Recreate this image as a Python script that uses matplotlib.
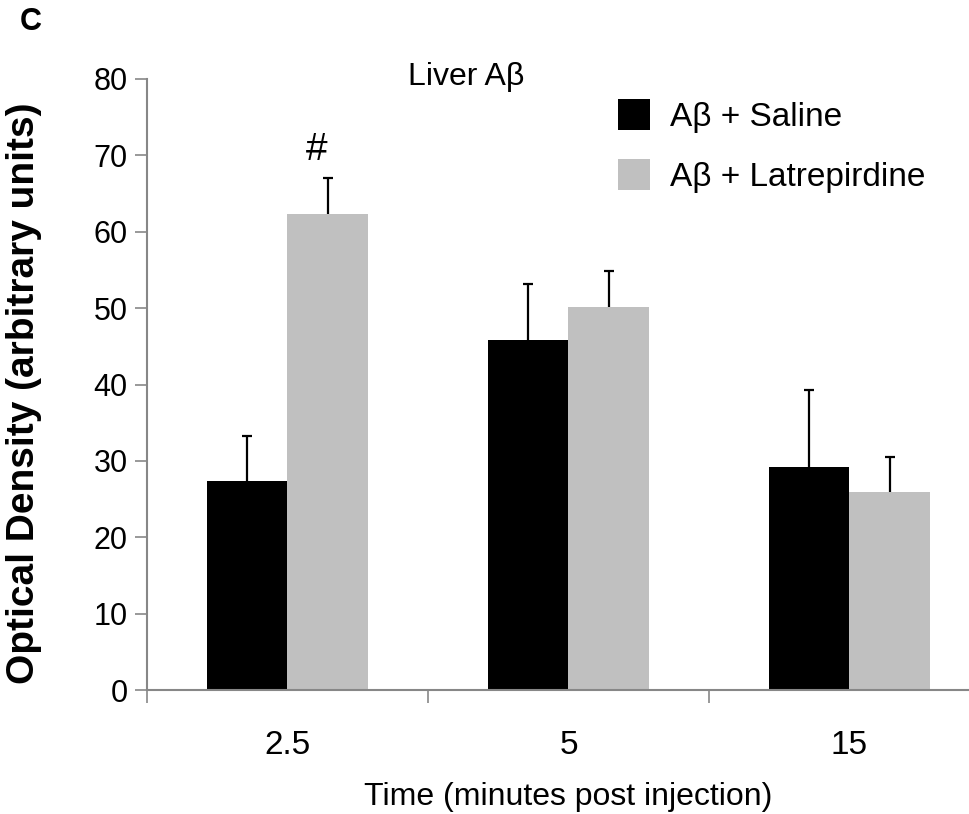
import matplotlib
matplotlib.use("Agg")
import matplotlib.pyplot as plt
import numpy as np

# Data
times = ["2.5", "5", "15"]
saline_mean = [27.4, 45.8, 29.2]
saline_err = [5.8, 7.3, 10.1]
latrep_mean = [62.3, 50.1, 25.9]
latrep_err = [4.7, 4.7, 4.6]
series_labels = ["A\u03b2 + Saline", "A\u03b2 + Latrepirdine"]
y_ticks = [0, 10, 20, 30, 40, 50, 60, 70, 80]

plt.rcParams["font.family"] = ["Liberation Sans", "DejaVu Sans"]

W, H = 970, 814
fig = plt.figure(figsize=(W / 100, H / 100), dpi=100)
ax = fig.add_axes([147 / W, 1 - 690 / H, 843 / W, (690 - 79) / H])

x = np.arange(len(times))
w = 0.287
spine_col = "#878787"

ax.bar(x - w / 2, saline_mean, w, color="black", label=series_labels[0], zorder=2)
ax.bar(x + w / 2, latrep_mean, w, color="#C0C0C0", label=series_labels[1], zorder=2)


def upper_errorbars(xpos, means, errs):
    _, caps, _ = ax.errorbar(xpos, means, yerr=[np.zeros(len(errs)), errs], fmt="none",
                             ecolor="black", elinewidth=1.6, capsize=3.6, capthick=1.6,
                             zorder=3)
    # hide the caps that sit on the bar tops
    caps[0].set_visible(False)


upper_errorbars(x - w / 2, saline_mean, saline_err)
upper_errorbars(x + w / 2, latrep_mean, latrep_err)

ax.set_xlim(-0.5, 2.5)
ax.set_ylim(0, 80)
ax.set_yticks(y_ticks)
ax.set_yticklabels([str(v) for v in y_ticks], fontsize=22)

# category boundaries as ticks, labels at centres
ax.set_xticks([-0.5, 0.5, 1.5, 2.5])
ax.set_xticklabels([])
ax.set_xticks(x, minor=True)
ax.set_xticklabels(times, minor=True, fontsize=24)
ax.tick_params(axis="x", which="minor", length=0, pad=29)
ax.tick_params(axis="x", which="major", length=9, color=spine_col, width=1.2)
ax.tick_params(axis="y", length=9, color=spine_col, width=1.2, pad=5)

for side in ["top", "right"]:
    ax.spines[side].set_visible(False)
for side in ["left", "bottom"]:
    ax.spines[side].set_color(spine_col)
    ax.spines[side].set_linewidth(1.5)

ax.set_xlabel("Time (minutes post injection)", fontsize=23, labelpad=15)
ax.set_ylabel("Optical Density (arbitrary units)", fontsize=28, fontweight="bold")
ax.yaxis.set_label_coords(-0.124, 0.486)

fig.text(466 / W, 1 - 85 / H, "Liver A\u03b2", fontsize=23, ha="center", va="baseline")

# significance marker over the latrepirdine bar at 2.5 min
ax.text(x[0] + w / 2 - 0.04, latrep_mean[0] + latrep_err[0] + 3.7, "#",
        fontsize=28, ha="center", va="center")

ax.legend(loc="upper left", bbox_to_anchor=(618 / W, 1 - 99 / H),
          bbox_transform=fig.transFigure, frameon=False, borderpad=0,
          borderaxespad=0, fontsize=24, handlelength=0.96, handleheight=1.05,
          handletextpad=0.6, labelspacing=0.78)

fig.text(31 / W, 1 - 22 / H, "C", fontsize=22, fontweight="bold", ha="center", va="center")

fig.savefig("out.png", dpi=100)
